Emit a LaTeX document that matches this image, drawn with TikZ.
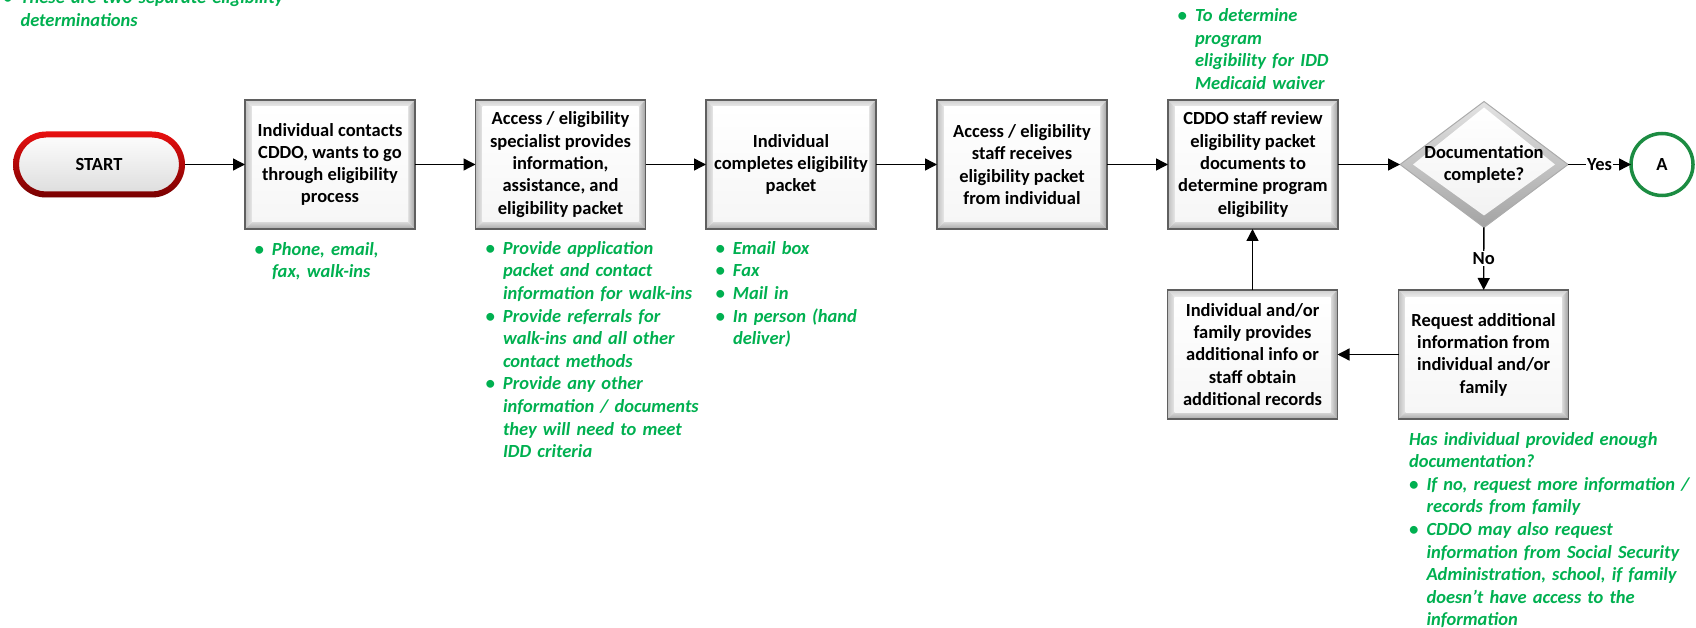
\documentclass[tikz,border=0pt]{standalone}
\usepackage{fontspec}
\setmainfont{Carlito}
\usetikzlibrary{shapes.geometric,arrows.meta}
\definecolor{notegreen}{RGB}{0,176,80}
\definecolor{startred}{RGB}{232,16,16}
\definecolor{startdark}{RGB}{120,0,0}
\definecolor{endgreen}{RGB}{28,140,66}
\definecolor{edgegray}{RGB}{95,95,95}
\pgfdeclarelayer{background}
\pgfsetlayers{background,main}

\newcommand\boxfont{\fontsize{18.5}{22.3}\selectfont\bfseries}
\newcommand\notefont{\fontsize{18.5}{22.6}\selectfont\bfseries\itshape}
\newcommand\notebullet{\makebox[17.5pt][l]{•}}
\newcommand\noteindent{\hspace*{17.5pt}}

% bevelled grey frame drawn behind a process box
\newcommand\bevelframe[1]{%
  \begin{pgfonlayer}{background}
    \path ([xshift=7pt,yshift=-7pt]#1.north west) coordinate (#1-inw)
          ([xshift=-7pt,yshift=-7pt]#1.north east) coordinate (#1-ine)
          ([xshift=7pt,yshift=7pt]#1.south west) coordinate (#1-isw)
          ([xshift=-7pt,yshift=7pt]#1.south east) coordinate (#1-ise);
    \shade[top color=gray!38,bottom color=gray!14] (#1.north west) -- (#1.north east) -- (#1-ine) -- (#1-inw) -- cycle;
    \shade[left color=gray!50,right color=gray!18] (#1.north west) -- (#1-inw) -- (#1-isw) -- (#1.south west) -- cycle;
    \shade[left color=gray!25,right color=gray!75] (#1.north east) -- (#1-ine) -- (#1-ise) -- (#1.south east) -- cycle;
    \shade[top color=gray!30,bottom color=gray!68] (#1.south west) -- (#1-isw) -- (#1-ise) -- (#1.south east) -- cycle;
    \shade[top color=white,bottom color=gray!7] (#1-inw) rectangle (#1-ise);
    \draw[edgegray,line width=1.3pt] (#1.north west) rectangle (#1.south east);
  \end{pgfonlayer}}

\tikzset{
  every node/.style={inner sep=0pt, outer sep=0pt},
  process/.style={rectangle, minimum width=170pt, minimum height=129pt, align=center, font=\boxfont},
  note/.style={anchor=base west, text width=330pt, align=left, font=\notefont, text=notegreen},
  flow/.style={-{Triangle[length=12pt,width=12pt]}, line width=1.4pt},
  lbl/.style={fill=white, inner sep=1.5pt, font=\boxfont}
}

\begin{document}
\begin{tikzpicture}[x=1pt,y=-1pt]
\useasboundingbox (0,0) rectangle (1696,628);

% start terminal
\node[rectangle, rounded corners=33pt, minimum width=172pt, minimum height=66pt,
      top color=white, middle color=white, bottom color=gray!28, font=\boxfont] (start) at (99,164.5) {START};
\shade[top color=startred, bottom color=startdark, even odd rule, rounded corners=33pt]
  (start.north west) rectangle (start.south east)
  [rounded corners=27pt] ([xshift=6pt,yshift=-6pt]start.north west) rectangle ([xshift=-6pt,yshift=6pt]start.south east);

% process boxes
\node[process] (b1) at (330,164.5) {Individual contacts\\CDDO, wants to go\\through eligibility\\process};
\node[process] (b2) at (560.5,164.5) {Access / eligibility\\specialist provides\\information,\\assistance, and\\eligibility packet};
\node[process] (b3) at (791,164.5) {Individual\\completes eligibility\\packet};
\node[process] (b4) at (1022,164.5) {Access / eligibility\\staff receives\\eligibility packet\\from individual};
\node[process] (b5) at (1253,164.5) {CDDO staff review\\eligibility packet\\documents to\\determine program\\eligibility};
\node[process] (b6) at (1483.5,354.5) {Request additional\\information from\\individual and/or\\family};
\node[process] (b7) at (1252.5,354.5) {Individual and/or\\family provides\\additional info or\\staff obtain\\additional records};
\foreach \b in {b1,b2,b3,b4,b5,b6,b7} {\bevelframe{\b}}

% decision
\node[diamond, aspect=1.333, minimum width=168pt, minimum height=126pt] (dia) at (1484,164.5) {};
\node[font=\boxfont, align=center] (diatext) at (dia.center) {Documentation\\complete?};
\begin{pgfonlayer}{background}
  \shade[top color=gray!22, bottom color=gray!72] (dia.north) -- (dia.east) -- (dia.south) -- (dia.west) -- cycle;
  \shade[top color=white, middle color=white, bottom color=gray!10] ([yshift=-6pt]dia.north) -- ([xshift=-13pt]dia.east) -- ([yshift=12pt]dia.south) -- ([xshift=13pt]dia.west) -- cycle;
  \draw[gray!65, line width=1pt] (dia.north) -- (dia.east) -- (dia.south) -- (dia.west) -- cycle;
\end{pgfonlayer}

% connector
\node[circle, draw=endgreen, line width=3.5pt, minimum size=62pt, fill=white, font=\boxfont] (A) at (1662,164.5) {A};

% flow
\draw[flow] (start) -- (b1);
\draw[flow] (b1) -- (b2);
\draw[flow] (b2) -- (b3);
\draw[flow] (b3) -- (b4);
\draw[flow] (b4) -- (b5);
\draw[flow] (b5) -- (dia);
\draw[flow] (dia) -- node[lbl] (yes) {Yes} (A);
\draw[flow] (dia) -- node[lbl] (no) {No} (b6);
\draw[flow] (b6) -- (b7);
\draw[flow] (b7.north) -- (b7.north |- b5.south);

% notes
\node[note] (n0) at (3,4) {\notebullet These are two separate eligibility\\\noteindent determinations};
\node[note] (n1) at (254.5,255) {\notebullet Phone, email,\\\noteindent fax, walk-ins};
\node[note] (n2) at (485.5,254.3) {\notebullet Provide application\\\noteindent packet and contact\\\noteindent information for walk-ins\\\notebullet Provide referrals for\\\noteindent walk-ins and all other\\\noteindent contact methods\\\notebullet Provide any other\\\noteindent information / documents\\\noteindent they will need to meet\\\noteindent IDD criteria};
\node[note] (n3) at (715.5,254.3) {\notebullet Email box\\\notebullet Fax\\\notebullet Mail in\\\notebullet In person (hand\\\noteindent deliver)};
\node[note] (n5) at (1177.5,21.7) {\notebullet To determine\\\noteindent program\\\noteindent eligibility for IDD\\\noteindent Medicaid waiver};
\node[note] (n6) at (1409,445) {Has individual provided enough\\documentation?\\\notebullet If no, request more information /\\\noteindent records from family\\\notebullet CDDO may also request\\\noteindent information from Social Security\\\noteindent Administration, school, if family\\\noteindent doesn’t have access to the\\\noteindent information};
\end{tikzpicture}
\end{document}
